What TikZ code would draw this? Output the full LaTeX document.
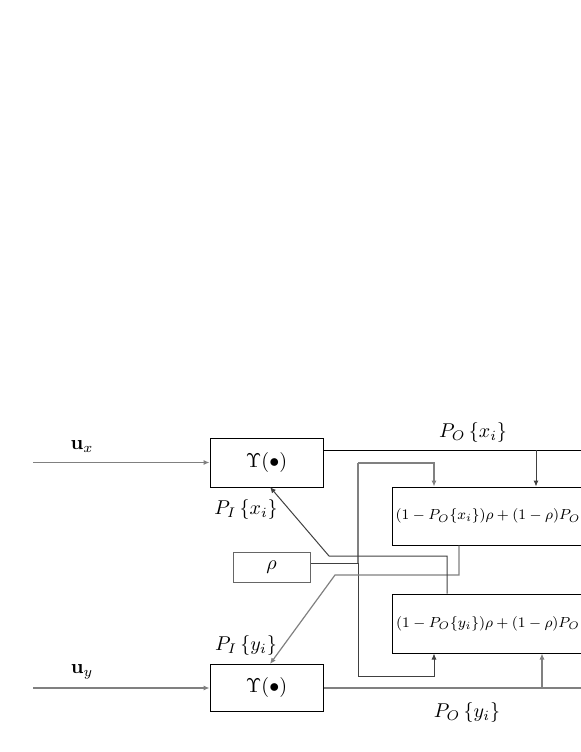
\documentclass[tikz,border=0pt]{standalone}
\usetikzlibrary{arrows.meta}
\begin{document}
\begin{tikzpicture}[x=0.5pt,y=-0.5pt,
  blk/.style={draw=black,line width=0.5pt,inner sep=0pt,fill=none},
  wire/.style={draw=black!75,line width=0.5pt},
  gwire/.style={draw=black!50,line width=0.6pt},
  arr/.style={-{Latex[length=3pt,width=2.6pt]}},
  lbl/.style={inner sep=0pt}]
\useasboundingbox (0,0) rectangle (581,752);
\clip (0,0) rectangle (581,752);
% blocks
\node[blk,minimum width=56.5pt,minimum height=24.5pt] (ups1) at (266.5,462.5) {$\Upsilon(\bullet)$};
\node[blk,minimum width=56.5pt,minimum height=23.5pt] (ups2) at (266.5,687.5) {$\Upsilon(\bullet)$};
\node[blk,draw=black!60,minimum width=38.5pt,minimum height=15pt] (rho) at (271.5,567) {$\rho$};
\node[blk,minimum width=96pt,minimum height=29pt,font=\footnotesize] (big1) at (488,516) {\scalebox{0.91}{$(1-P_O\{x_i\})\rho+(1-\rho)P_O$}};
\node[blk,minimum width=96pt,minimum height=29.5pt,font=\footnotesize] (big2) at (488,623.5) {\scalebox{0.91}{$(1-P_O\{y_i\})\rho+(1-\rho)P_O$}};
% labels
\node[lbl] (lux) at (82,447) {$\mathbf{u}_x$};
\node[lbl] (luy) at (82,672) {$\mathbf{u}_y$};
\node[lbl] (lpix) at (246,509) {$P_I\left\{x_i\right\}$};
\node[lbl] (lpiy) at (246,645) {$P_I\left\{y_i\right\}$};
\node[lbl] (lpox) at (473,432) {$P_O\left\{x_i\right\}$};
\node[lbl] (lpoy) at (467,712) {$P_O\left\{y_i\right\}$};
% coordinates
\coordinate (inx) at (33,462.5);
\coordinate (iny) at (33,688);
\coordinate (ox) at (581,450);
\coordinate (oy) at (581,688);
\coordinate (a1) at (536,450);
\coordinate (a2) at (542,688);
\coordinate (j) at (358,563);
\coordinate (jt) at (358,463);
\coordinate (jb) at (358,676);
\coordinate (f1) at (434,463);
\coordinate (f2) at (434,676);
\coordinate (d1) at (459,575);
\coordinate (d1b) at (335,575);
\coordinate (d2) at (447,556);
\coordinate (d2b) at (329,556);
\coordinate (t1) at (270,487);
\coordinate (t2) at (270,664);
% inputs
\draw[gwire,arr] (inx) -- (ups1.west);
\draw[gwire,arr] (iny) -- (ups2.west |- iny);
% outputs
\draw[wire,draw=black] (ox -| ups1.east) -- (ox);
\draw[wire,arr] (a1) -- (a1 |- big1.north);
\draw[gwire] (oy -| ups2.east) -- (oy);
\draw[gwire,arr] (a2) -- (a2 |- big2.south);
% rho distribution
\draw[wire] (rho.east |- j) -- (j);
\draw[gwire,arr] (jt) -- (f1) -- (f1 |- big1.north);
\draw[gwire] (jt) -- (j);
\draw[wire,arr] (j) -- (jb) -- (f2) -- (f2 |- big2.south);
% feedback
\draw[gwire,arr] (d1 |- big1.south) -- (d1) -- (d1b) -- (t2);
\draw[wire,arr] (d2 |- big2.north) -- (d2) -- (d2b) -- (t1);
\end{tikzpicture}
\end{document}
